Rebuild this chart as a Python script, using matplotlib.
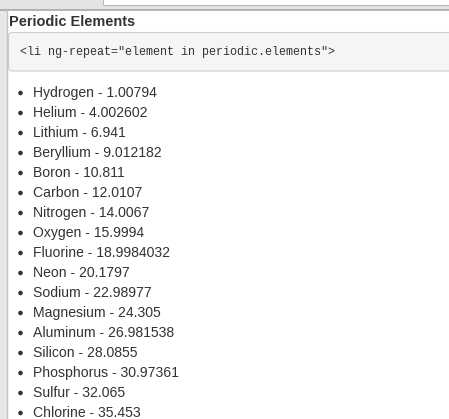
import matplotlib
matplotlib.use("Agg")
import matplotlib.pyplot as plt
from matplotlib.patches import Rectangle, FancyBboxPatch, Circle

W, H = 449, 419
DPI = 100

title = "Periodic Elements"
code_line = '<li ng-repeat="element in periodic.elements">'

names = ["Hydrogen", "Helium", "Lithium", "Beryllium", "Boron", "Carbon",
         "Nitrogen", "Oxygen", "Fluorine", "Neon", "Sodium", "Magnesium",
         "Aluminum", "Silicon", "Phosphorus", "Sulfur", "Chlorine"]
weights = ["1.00794", "4.002602", "6.941", "9.012182", "10.811", "12.0107",
           "14.0067", "15.9994", "18.9984032", "20.1797", "22.98977", "24.305",
           "26.981538", "28.0855", "30.97361", "32.065", "35.453"]

def px(v):
    # pixel size -> points
    return v * 72.0 / DPI

fig = plt.figure(figsize=(W / DPI, H / DPI), dpi=DPI)
ax = fig.add_axes([0, 0, 1, 1])
ax.set_xlim(0, W)
ax.set_ylim(H, 0)
ax.axis("off")

# browser chrome at the top
ax.add_patch(Rectangle((0, 0), W, 10, facecolor="#e4e4e4", edgecolor="none"))
ax.add_patch(Rectangle((103, -5), W, 10.5, facecolor="white", edgecolor="#b8b8b8", lw=0.8))
ax.plot([0, W], [10, 10], color="#a8a8a8", lw=1.2)

# left gray strip
ax.add_patch(Rectangle((0, 10), 7, H, facecolor="#e8e8e8", edgecolor="none"))
ax.plot([7, 7], [10, H], color="#c4c4c4", lw=1)

# heading
ax.text(9, 26, title, fontsize=px(14.5), fontweight="bold", color="#333333",
        family="Liberation Sans", va="baseline", ha="left")

# code box
ax.add_patch(FancyBboxPatch((8.5, 32.5), W + 10, 38.5,
                            boxstyle="round,pad=0,rounding_size=4",
                            facecolor="#f5f5f5", edgecolor="#cccccc", lw=0.8))
ax.text(20, 55.5, code_line, fontsize=px(11.7), color="#333333",
        family="Liberation Mono", va="baseline", ha="left")

# list
for i, (n, w) in enumerate(zip(names, weights)):
    y = 92 + 20 * i
    ax.add_patch(Circle((20.5, y + 1), 2.3, facecolor="#333333", edgecolor="none"))
    ax.text(33, y + 5.3, n + " - " + w, fontsize=px(14), color="#333333",
            family="Liberation Sans", va="baseline", ha="left")

fig.savefig("out.png", dpi=DPI)
